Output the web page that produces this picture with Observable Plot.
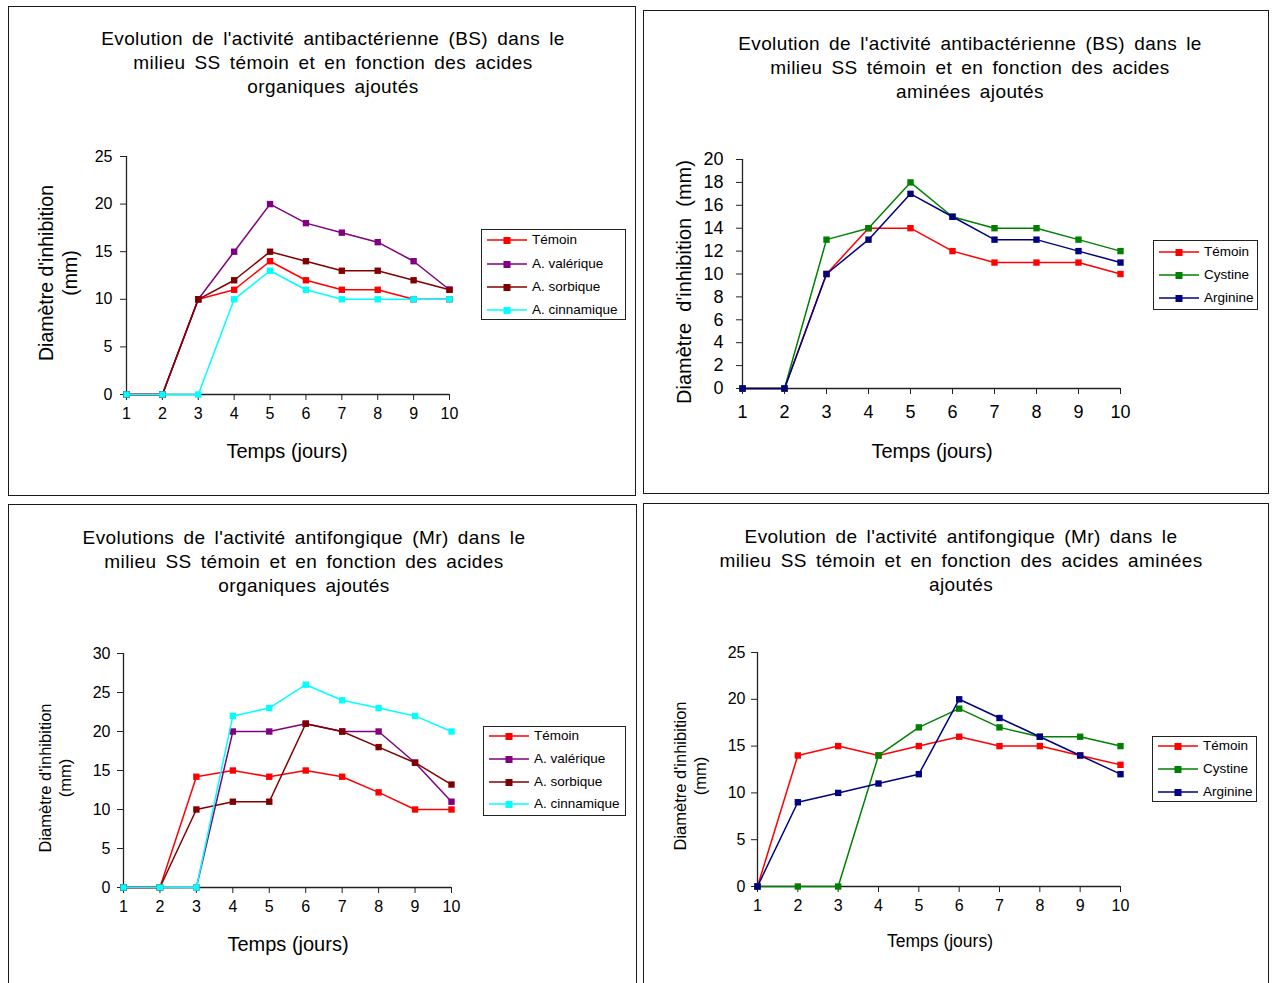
<!DOCTYPE html>
<html><head><meta charset="utf-8">
<script src="https://cdn.jsdelivr.net/npm/d3@7"></script>
<script src="https://cdn.jsdelivr.net/npm/@observablehq/plot@0.6"></script>
<style>
html,body{margin:0;padding:0;background:#fff;}
body{width:1273px;height:983px;position:relative;overflow:hidden;font-family:"Liberation Sans",Arial,sans-serif;color:#000;}
.abs{position:absolute;}
.title{position:absolute;white-space:pre;text-align:center;font-size:19px;letter-spacing:0.4px;word-spacing:3.5px;line-height:24px;transform:translateX(-50%);}
.lbl{position:absolute;white-space:pre;text-align:center;transform:translate(-50%,-50%);}
.ylbl{position:absolute;white-space:pre;text-align:center;transform:translate(-50%,-50%) rotate(-90deg);}
.legend{position:absolute;border:1.5px solid #222;box-sizing:border-box;background:#fff;}
.lrow{position:absolute;white-space:pre;}
</style>
</head><body>
<script>
// ---- data ----
const jours = [1,2,3,4,5,6,7,8,9,10];

// Antibactérienne (BS), acides organiques
const bsOrgTemoin      = [0,0,10,11,14,12,11,11,10,10];
const bsOrgValerique   = [0,0,10,15,20,18,17,16,14,11];
const bsOrgSorbique    = [0,0,10,12,15,14,13,13,12,11];
const bsOrgCinnamique  = [0,0,0,10,13,11,10,10,10,10];

// Antibactérienne (BS), acides aminés
const bsAmTemoin   = [0,0,10,14,14,12,11,11,11,10];
const bsAmCystine  = [0,0,13,14,18,15,14,14,13,12];
const bsAmArginine = [0,0,10,13,17,15,13,13,12,11];

// Antifongique (Mr), acides organiques
const mrOrgTemoin     = [0,0,14.2,15,14.2,15,14.2,12.2,10,10];
const mrOrgValerique  = [0,0,0,20,20,21,20,20,16,11];
const mrOrgSorbique   = [0,0,10,11,11,21,20,18,16,13.2];
const mrOrgCinnamique = [0,0,0,22,23,26,24,23,22,20];

// Antifongique (Mr), acides aminés
const mrAmTemoin   = [0,14,15,14,15,16,15,15,14,13];
const mrAmCystine  = [0,0,0,14,17,19,17,16,16,15];
const mrAmArginine = [0,9,10,11,12,20,18,16,14,12];

const nomsOrg = ["Témoin","A. valérique","A. sorbique","A. cinnamique"];
const couleursOrg = ["#ff0000","#800080","#800000","#00ffff"];
const nomsAm = ["Témoin","Cystine","Arginine"];
const couleursAm = ["#ff0000","#008000","#000080"];

const titre1 = ["Evolution de l'activité antibactérienne (BS) dans le","milieu SS témoin et en fonction des acides","organiques ajoutés"];
const titre2 = ["Evolution de l'activité antibactérienne (BS) dans le","milieu SS témoin et en fonction des acides","aminées ajoutés"];
const titre3 = ["Evolutions de l'activité antifongique (Mr) dans le","milieu SS témoin et en fonction des acides","organiques ajoutés"];
const titre4 = ["Evolution de l'activité antifongique (Mr) dans le","milieu SS témoin et en fonction des acides aminées","ajoutés"];

const yTicks25 = [0,5,10,15,20,25];
const yTicks20 = [0,2,4,6,8,10,12,14,16,18,20];
const yTicks30 = [0,5,10,15,20,25,30];
const xLabel = "Temps (jours)";

// ---- layout ----
const panels = [
  {box:[8,6,628,490], plot:[126,449,394,156], ymax:25, yticks:yTicks25, tickFs:16, xPad:7, yPad:8,
   series:[bsOrgTemoin,bsOrgValerique,bsOrgSorbique,bsOrgCinnamique], names:nomsOrg, colors:couleursOrg,
   title:titre1, titleX:333, titleY:27,
   ylab:"Diamètre d'inhibition\n(mm)", ylabX:58, ylabY:273, ylabFs:19.5, ylabLh:24,
   xlabX:287, xlabY:451, xlabFs:20,
   legend:[481,229,145,91], rowY:[240,264,287,310], legFs:13.5, legLineW:40},
  {box:[643,10,626,484], plot:[742,1120,388,159], ymax:20, yticks:yTicks20, tickFs:18, xPad:11, yPad:13,
   series:[bsAmTemoin,bsAmCystine,bsAmArginine], names:nomsAm, colors:couleursAm,
   title:titre2, titleX:970, titleY:32,
   ylab:"Diamètre  d'inhibition  (mm)", ylabX:684, ylabY:282, ylabFs:20, ylabLh:22,
   xlabX:932, xlabY:451, xlabFs:20,
   legend:[1153,240,105,70], rowY:[252,275,298], legFs:13.5, legLineW:40},
  {box:[8,504,629,490], plot:[123,451,887,653], ymax:30, yticks:yTicks30, tickFs:16, xPad:7, yPad:7,
   series:[mrOrgTemoin,mrOrgValerique,mrOrgSorbique,mrOrgCinnamique], names:nomsOrg, colors:couleursOrg,
   title:titre3, titleX:304, titleY:526,
   ylab:"Diamètre d'inhibition\n(mm)", ylabX:55, ylabY:778, ylabFs:16.5, ylabLh:20,
   xlabX:288, xlabY:944, xlabFs:20,
   legend:[483,726,143,90], rowY:[736,759,782,804], legFs:13.5, legLineW:40},
  {box:[643,503,626,490], plot:[757,1120,886,652], ymax:25, yticks:yTicks25, tickFs:16, xPad:7, yPad:6,
   series:[mrAmTemoin,mrAmCystine,mrAmArginine], names:nomsAm, colors:couleursAm,
   title:titre4, titleX:961, titleY:525,
   ylab:"Diamètre d'inhibition\n(mm)", ylabX:690, ylabY:776, ylabFs:16.5, ylabLh:20,
   xlabX:940, xlabY:941, xlabFs:17.5,
   legend:[1152,736,105,66], rowY:[746,769,792], legFs:13.5, legLineW:40}
];

function addEl(cls, html, css){
  const d = document.createElement("div");
  d.className = cls; d.textContent = html;
  Object.assign(d.style, css);
  document.body.appendChild(d);
  return d;
}

for (const p of panels) {
  const [bx,by,bw,bh] = p.box;
  const [px0,px1,py0,py1] = p.plot;
  // border
  addEl("abs","",{left:bx+"px",top:by+"px",width:bw+"px",height:bh+"px",border:"1.6px solid #1a1a1a",boxSizing:"border-box"});

  const marks = [
    Plot.axisX({ticks: jours, tickSize: 6, tickPadding: p.xPad, tickFormat: d => String(d), label: null, fontSize: p.tickFs, stroke: "#222"}),
    Plot.axisY({ticks: p.yticks, tickSize: 6, tickPadding: p.yPad, tickFormat: d => String(d), label: null, fontSize: p.tickFs, stroke: "#222"}),
    Plot.ruleX([1], {stroke: "#222", strokeWidth: 1.3}),
    Plot.ruleY([0], {stroke: "#222", strokeWidth: 1.3})
  ];
  p.series.forEach((vals, i) => {
    const data = jours.map((j, k) => ({jour: j, val: vals[k], serie: p.names[i]}));
    marks.push(Plot.line(data, {x: "jour", y: "val", stroke: "serie", strokeWidth: 1.5}));
    marks.push(Plot.dot(data, {x: "jour", y: "val", fill: "serie", symbol: "square", r: 3.6, stroke: "none"}));
  });

  const svg = Plot.plot({
    width: bw, height: bh,
    marginLeft: px0 - bx, marginRight: bx + bw - px1,
    marginTop: py1 - by, marginBottom: by + bh - py0,
    x: {domain: [1, 10], axis: null},
    y: {domain: [0, p.ymax], axis: null},
    color: {domain: p.names, range: p.colors},
    style: {fontFamily: '"Liberation Sans", Arial, sans-serif', fontSize: p.tickFs + "px", color: "#000", background: "transparent", overflow: "visible"},
    marks
  });
  svg.style.position = "absolute";
  svg.style.left = bx + "px";
  svg.style.top = by + "px";
  document.body.appendChild(svg);

  // title
  addEl("title", p.title.join("\n"), {left: p.titleX + "px", top: p.titleY + "px"});
  // axis labels
  addEl("ylbl", p.ylab, {left: p.ylabX + "px", top: p.ylabY + "px", fontSize: p.ylabFs + "px", lineHeight: p.ylabLh + "px"});
  addEl("lbl", xLabel, {left: p.xlabX + "px", top: p.xlabY + "px", fontSize: p.xlabFs + "px"});

  // legend
  const [lx,ly,lw,lh] = p.legend;
  addEl("legend","",{left:lx+"px",top:ly+"px",width:lw+"px",height:lh+"px"});
  p.names.forEach((n, i) => {
    const y = p.rowY[i];
    const sw = document.createElementNS("http://www.w3.org/2000/svg","svg");
    sw.setAttribute("width", p.legLineW + 2); sw.setAttribute("height", 10);
    sw.style.position = "absolute"; sw.style.left = (lx + 5) + "px"; sw.style.top = (y - 5) + "px";
    sw.innerHTML = `<line x1="1" x2="${p.legLineW+1}" y1="5" y2="5" stroke="${p.colors[i]}" stroke-width="1.5"/><rect x="${p.legLineW/2 - 2.5}" y="2" width="7" height="7" fill="${p.colors[i]}"/>`;
    document.body.appendChild(sw);
    addEl("lrow", n, {left: (lx + p.legLineW + 11) + "px", top: (y - 9) + "px", fontSize: p.legFs + "px", lineHeight: "18px"});
  });
}
</script>
</body></html>
